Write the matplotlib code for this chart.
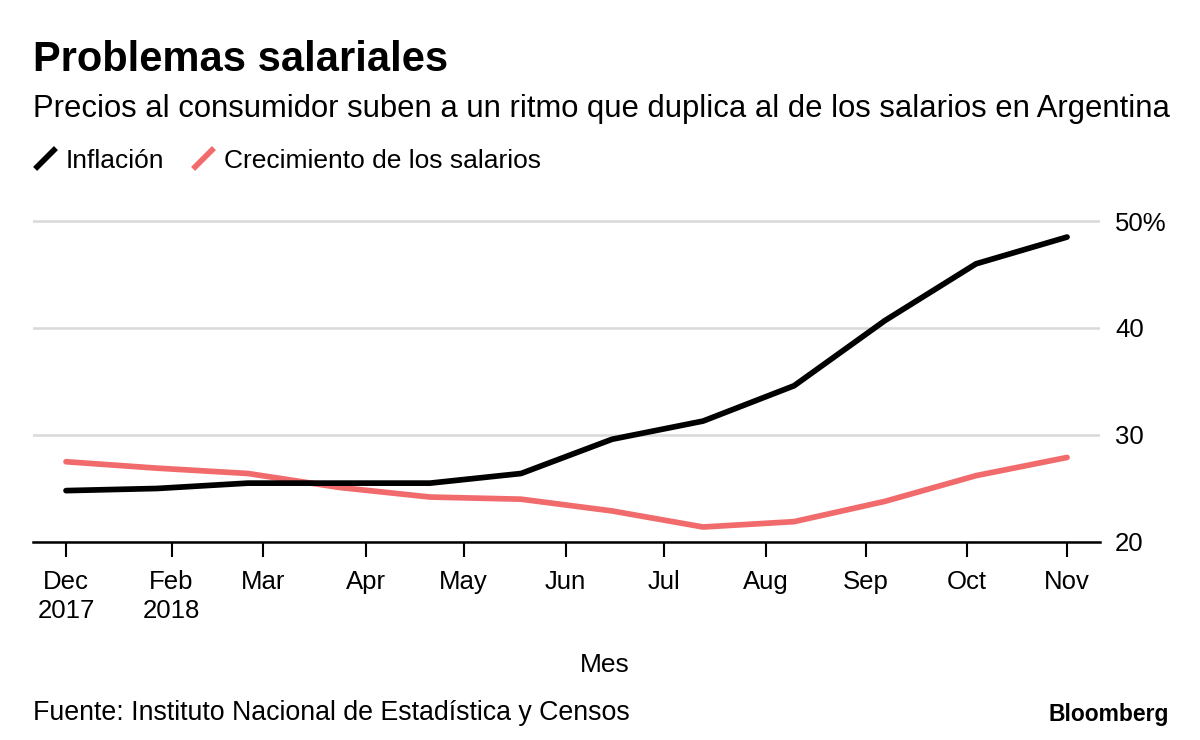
import matplotlib.pyplot as plt
from matplotlib.lines import Line2D

plt.rcParams['font.family'] = ['Liberation Sans', 'DejaVu Sans']

# monthly data, Dec 2017 .. Nov 2018 (percent, year over year)
months = ['Dec 2017', 'Jan 2018', 'Feb', 'Mar', 'Apr', 'May', 'Jun', 'Jul', 'Aug', 'Sep', 'Oct', 'Nov']
inflacion = [24.8, 25.0, 25.5, 25.5, 25.5, 26.4, 29.6, 31.3, 34.6, 40.7, 46.0, 48.5]
salarios = [27.5, 26.9, 26.4, 25.1, 24.2, 24.0, 22.9, 21.4, 21.9, 23.8, 26.2, 27.9]

tick_labels = ['Dec\n2017', 'Feb\n2018', 'Mar', 'Apr', 'May', 'Jun', 'Jul', 'Aug', 'Sep', 'Oct', 'Nov']
tick_pos = [0, 1.16, 2.16, 3.3, 4.37, 5.49, 6.57, 7.69, 8.79, 9.9, 11.0]
y_ticks = [20, 30, 40, 50]
y_labels = ['20', '30', '40', '50%']

black = '#000000'
red = '#F26B6C'

fig = plt.figure(figsize=(12, 7.4), dpi=100)
ax = fig.add_axes([0.0275, 0.2676, 0.889, 0.4482])

x = list(range(len(months)))
ax.plot(x, salarios, color=red, lw=4.1, solid_capstyle='round', zorder=3)
ax.plot(x, inflacion, color=black, lw=4.1, solid_capstyle='round', zorder=4)

ax.set_xlim(-0.363, 11.36)
ax.set_ylim(20, 51)

ax.set_yticks(y_ticks)
ax.set_yticklabels(y_labels)
ax.yaxis.tick_right()
ax.tick_params(axis='y', length=0, pad=11, labelsize=18.5)
ax.grid(axis='y', color='#d9d9d9', lw=1.8)
ax.set_axisbelow(True)

ax.set_xticks(tick_pos)
ax.set_xticklabels(tick_labels, linespacing=1.3)
ax.tick_params(axis='x', length=11, width=1.5, pad=9, labelsize=18.5, color='black')

for s in ['top', 'left', 'right']:
    ax.spines[s].set_visible(False)
ax.spines['bottom'].set_linewidth(1.8)

fig.text(0.504, 0.101, 'Mes', fontsize=19, ha='center', va='center')

fig.text(0.0275, 0.919, 'Problemas salariales', fontsize=30, fontweight='bold', va='center')
fig.text(0.0275, 0.853, 'Precios al consumidor suben a un ritmo que duplica al de los salarios en Argentina',
         fontsize=22.3, va='center')

slash = [(-1, -1), (1, 1)]
handles = [Line2D([], [], color=black, marker=slash, markersize=15, markeredgewidth=4.1, linestyle='none'),
           Line2D([], [], color=red, marker=slash, markersize=15, markeredgewidth=4.1, linestyle='none')]
fig.legend(handles, ['Inflación', 'Crecimiento de los salarios'], loc='center left',
           bbox_to_anchor=(0.0185, 0.783), ncol=2, frameon=False, fontsize=19,
           handlelength=0.9, handletextpad=0.35, columnspacing=1.0, borderaxespad=0)

fig.text(0.0275, 0.036, 'Fuente: Instituto Nacional de Estadística y Censos', fontsize=19.3, va='center')
fig.text(0.974, 0.035, 'Bloomberg', fontsize=16.5, fontweight='bold', va='center', ha='right')

fig.savefig('out.png', dpi=100, facecolor='white')
